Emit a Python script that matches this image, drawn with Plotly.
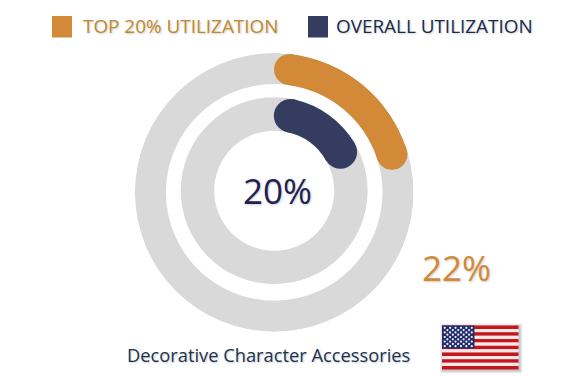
import math
import plotly.graph_objects as go

labels = ["TOP 20% UTILIZATION", "OVERALL UTILIZATION"]
values = [22, 20]
colors = ["#D28A38", "#343D5F"]
bands = [(108.3, 139.3), (60, 93.4)]
subplots = ["polar", "polar2"]
track = "#D9D9D9"
category = "Decorative Character Accessories"

W, H = 579, 376
CX, R = 274.2, 139.5
CYS = [192.4, 190.7]
FONT = "Open Sans"

fig = go.Figure()

# background tracks
for (lo, hi), sp in zip(bands, subplots):
    fig.add_trace(go.Barpolar(r=[hi - lo], base=[lo], theta=[180], width=[360], subplot=sp,
                              marker=dict(color=track, line_width=0), hoverinfo="skip"))

# value arcs with round caps
for v, c, (lo, hi), sp in zip(values, colors, bands, subplots):
    sweep = v / 100 * 360
    mid = (lo + hi) / 2
    cap = math.degrees(math.atan((hi - lo) / 2 / mid))
    a0, a1 = cap, sweep - cap
    fig.add_trace(go.Barpolar(r=[hi - lo], base=[lo], theta=[(a0 + a1) / 2], width=[a1 - a0], subplot=sp,
                              marker=dict(color=c, line_width=0), hoverinfo="skip"))
    fig.add_trace(go.Scatterpolar(r=[mid, mid], theta=[a0, a1], mode="markers", subplot=sp,
                                  marker=dict(color=c, size=hi - lo, line_width=0), hoverinfo="skip"))

# flag stars on a pixel-scale overlay axis
FX0, FX1, FY0, FY1 = 442, 518.5, 325.5, 369.5
CW, CH = 32.5, 23
sx, sy = [], []
for row in range(9):
    n = 6 if row % 2 == 0 else 5
    for col in range(n):
        sx.append(FX0 + CW * ((col + (0.5 if row % 2 == 0 else 1.0)) / 6))
        sy.append(FY0 + CH * (row + 1) / 10)
fig.add_trace(go.Scatter(x=sx, y=sy, mode="markers", hoverinfo="skip", xaxis="x", yaxis="y",
                         marker=dict(symbol="circle", size=2.2, color="#F2F3FA", line_width=0)))

shapes = []
def rect(x0, y0, x1, y1, color, opacity=1):
    shapes.append(dict(type="rect", xref="x", yref="y", x0=x0, x1=x1, y0=y0, y1=y1,
                       fillcolor=color, opacity=opacity, line_width=0, layer="below"))

# legend squares
rect(52, 16, 72, 37.5, colors[0])
rect(308, 16, 328, 37.5, colors[1])

# flag shadow, stripes, canton
for grow, op in [(3, .05), (2, .07), (1, .1)]:
    rect(FX0 - grow + 1, FY0 - grow + 1, FX1 + grow + 1, FY1 + grow + 1, "#000000", op)
sh = (FY1 - FY0) / 13
for i in range(13):
    rect(FX0, FY0 + i * sh, FX1, FY0 + (i + 1) * sh, "#C4161D" if i % 2 == 0 else "#FCE6E6")
rect(FX0, FY0, FX0 + CW, FY0 + CH, "#222C6B")

def label(x, y, text, color, size, anchor="left"):
    return dict(x=x, y=y, xref="x", yref="y", text=text, showarrow=False, xanchor=anchor, yanchor="middle",
                font=dict(family=FONT, size=size, color=color, shadow="1px 1px 2px rgba(90,90,90,0.3)"))

annotations = [
    label(81, 25.5, labels[0], "#BE8A2E", 18.9),
    label(334, 25.5, labels[1], "#1B2A4E", 18.9),
    label(277, 190.5, f"{values[1]}%", "#1F2352", 35, "center"),
    label(456.5, 267.5, f"{values[0]}%", "#D28A38", 35, "center"),
    label(124.5, 354.5, category, "#1B3350", 18.3),
]

def polar_layout(cy):
    return dict(
        domain=dict(x=[(CX - R) / W, (CX + R) / W], y=[1 - (cy + R) / H, 1 - (cy - R) / H]),
        bgcolor="rgba(0,0,0,0)", barmode="overlay",
        radialaxis=dict(range=[0, R], visible=False),
        angularaxis=dict(direction="clockwise", rotation=90, visible=False),
    )

fig.update_layout(
    width=W, height=H, margin=dict(l=0, r=0, t=0, b=0), showlegend=False,
    paper_bgcolor="white", plot_bgcolor="rgba(0,0,0,0)",
    xaxis=dict(range=[0, W], visible=False, fixedrange=True, domain=[0, 1]),
    yaxis=dict(range=[H, 0], visible=False, fixedrange=True, domain=[0, 1]),
    polar=polar_layout(CYS[0]), polar2=polar_layout(CYS[1]),
    shapes=shapes, annotations=annotations,
)
fig.write_html("out.html", config=dict(displayModeBar=False),
               post_script="document.body.style.margin='0';document.body.style.overflow='hidden';")
